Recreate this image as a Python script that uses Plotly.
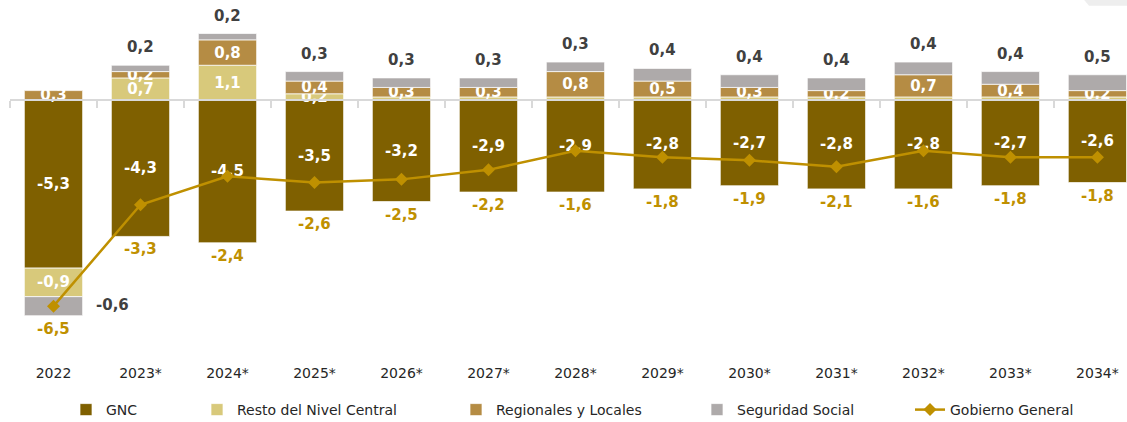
import plotly.graph_objects as go

# ── DATA ──────────────────────────────────────────────────────
years = ["2022", "2023*", "2024*", "2025*", "2026*", "2027*", "2028*",
         "2029*", "2030*", "2031*", "2032*", "2033*", "2034*"]

gnc        = [-5.3, -4.3, -4.5, -3.5, -3.2, -2.9, -2.9, -2.8, -2.7, -2.8, -2.8, -2.7, -2.6]
resto      = [-0.9,  0.7,  1.1,  0.2,  0.1,  0.1,  0.1,  0.1,  0.1,  0.1,  0.1,  0.1,  0.1]
regionales = [ 0.3,  0.2,  0.8,  0.4,  0.3,  0.3,  0.8,  0.5,  0.3,  0.2,  0.7,  0.4,  0.2]
seguridad  = [-0.6,  0.2,  0.2,  0.3,  0.3,  0.3,  0.3,  0.4,  0.4,  0.4,  0.4,  0.4,  0.5]
gobierno   = [-6.5, -3.3, -2.4, -2.6, -2.5, -2.2, -1.6, -1.8, -1.9, -2.1, -1.6, -1.8, -1.8]

# ── STYLE ─────────────────────────────────────────────────────
C_GNC   = "#7f6000"
C_RESTO = "#d8c97b"
C_REG   = "#b58c44"
C_SS    = "#aeaaaa"
C_GG    = "#bf9000"
C_DARK  = "#404040"
FONT    = "DejaVu Sans"
LABEL   = dict(size=15, family=FONT, weight="bold")


def fmt(v):
    return f"{v:.1f}".replace(".", ",")


def labels(vals, min_abs=0.15):
    return [fmt(v) if abs(v) >= min_abs else "" for v in vals]


series = [gnc, resto, regionales, seguridad]
pos_top = [sum(max(s[i], 0) for s in series) for i in range(len(years))]
neg_bot = [sum(min(s[i], 0) for s in series) for i in range(len(years))]

fig = go.Figure()

bar_specs = [
    ("GNC", gnc, C_GNC, labels(gnc), "legend"),
    ("Resto del Nivel Central", resto, C_RESTO, labels(resto), "legend2"),
    ("Regionales y Locales", regionales, C_REG, labels(regionales), "legend3"),
    ("Seguridad Social", seguridad, C_SS, [""] * len(years), "legend4"),
]
for name, vals, color, txt, leg in bar_specs:
    fig.add_trace(go.Bar(
        x=years, y=vals, name=name,
        marker=dict(color=color, line=dict(color="rgba(255,255,255,0.7)", width=1)),
        text=txt, textposition="inside", insidetextanchor="middle", textangle=0,
        textfont=dict(color="white", **LABEL),
        width=0.67, legend=leg, hoverinfo="skip",
    ))

# Gobierno General line
fig.add_trace(go.Scatter(
    x=years, y=gobierno, name="Gobierno General",
    mode="lines+markers",
    line=dict(color=C_GG, width=2.5),
    marker=dict(symbol="diamond", size=10, color=C_GG),
    legend="legend5", hoverinfo="skip",
))

# labels: Gobierno General under each bar, Seguridad Social above it
# (category index used for x on the category axis)
for i in range(len(years)):
    fig.add_annotation(
        x=i, y=neg_bot[i], text=fmt(gobierno[i]), showarrow=False,
        yanchor="middle", yshift=-13, font=dict(color=C_GG, **LABEL),
    )
    if seguridad[i] > 0:
        fig.add_annotation(
            x=i, y=pos_top[i], text=fmt(seguridad[i]), showarrow=False,
            yanchor="middle", yshift=18, font=dict(color=C_DARK, **LABEL),
        )
    else:
        fig.add_annotation(
            x=i, y=neg_bot[i], text=fmt(seguridad[i]), showarrow=False,
            yanchor="bottom", xshift=59, font=dict(color=C_DARK, **LABEL),
        )

# dummy trace for the zero-line axis with boundary ticks
fig.add_trace(go.Scatter(
    x=years, y=gobierno, xaxis="x2", mode="lines",
    line=dict(width=0), opacity=0, showlegend=False, hoverinfo="skip",
))

Y_MIN, Y_MAX = -8.04, 3.0
zero_pos = (0 - Y_MIN) / (Y_MAX - Y_MIN)

leg_common = dict(
    orientation="h", xref="container", yref="container",
    y=1 - 410 / 422, yanchor="middle", xanchor="left",
    font=dict(size=14, color="#262626", family=FONT),
    bgcolor="rgba(0,0,0,0)", itemclick=False,
)

fig.update_layout(
    width=1127, height=422,
    paper_bgcolor="white", plot_bgcolor="white",
    font=dict(family=FONT, size=14, color="#262626"),
    barmode="relative", bargap=0.33,
    margin=dict(l=10, r=0, t=5, b=67, autoexpand=False),
    uniformtext=dict(minsize=15, mode="show"),
    xaxis=dict(
        type="category", range=[-0.5, 12.34], showgrid=False,
        showline=False, ticks="", ticklabelstandoff=8,
        tickfont=dict(size=14, color="#262626", family=FONT),
    ),
    xaxis2=dict(
        type="category", overlaying="x", matches="x", anchor="free",
        position=zero_pos, side="bottom", showgrid=False,
        showline=True, linecolor="#d9d9d9", linewidth=1.5,
        ticks="outside", tickson="boundaries", ticklen=7,
        tickcolor="#d9d9d9", tickwidth=1.5, showticklabels=False,
    ),
    yaxis=dict(range=[Y_MIN, Y_MAX], visible=False, zeroline=False, showgrid=False),
    legend=dict(**leg_common, x=66 / 1127),
    legend2=dict(**leg_common, x=197 / 1127),
    legend3=dict(**leg_common, x=456 / 1127),
    legend4=dict(**leg_common, x=697 / 1127),
    legend5=dict(**leg_common, x=910 / 1127),
    showlegend=True,
    shapes=[dict(
        type="path", xref="paper", yref="paper", layer="below",
        path="M 0.9615 1.015 L 1.0 1.015 L 1.0 0.998 L 0.966 0.998 Z",
        fillcolor="#eeeeee", line=dict(width=0),
    )],
)

# page body has a default 8px margin; drop it so the figure fills the window
fig.write_html(
    "out.html",
    config={"displayModeBar": False},
    post_script="document.body.style.margin = '0';",
)
